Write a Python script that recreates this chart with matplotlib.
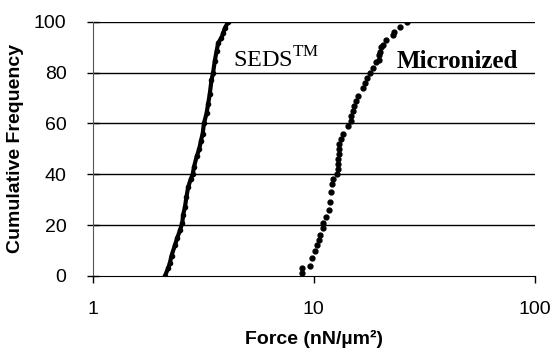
import matplotlib
matplotlib.use("Agg")
import matplotlib.pyplot as plt
from matplotlib.ticker import FixedLocator, NullLocator

# values
seds_force = [2.12, 2.19, 2.23, 2.27, 2.35, 2.41, 2.48, 2.54, 2.56, 2.61,
              2.65, 2.70, 2.77, 2.83, 2.87, 2.95, 3.03, 3.08, 3.14, 3.18,
              3.27, 3.32, 3.38, 3.44, 3.50, 3.56, 3.63, 3.69, 3.82, 3.89,
              3.96, 4.10]
seds_freq = [0, 3, 5, 8, 12, 15, 18, 21, 24, 27,
             31, 35, 38, 40, 43, 47, 50, 53, 56, 60,
             64, 67.5, 71.5, 77, 80, 84.5, 88.5, 91.7, 93.7, 95.7,
             97.6, 100]

micro_force = [8.83, 8.83, 9.59, 9.79, 10.1, 10.3, 10.5, 10.7, 10.98, 11.0,
               11.3, 11.7, 11.8, 11.9, 12.1, 12.2, 12.7, 12.8, 12.85, 12.9,
               12.98, 13.0, 13.0, 13.2, 13.5, 14.25, 14.65, 14.8, 15.0, 15.2,
               15.5, 15.8, 16.7, 17.0, 17.4, 17.9, 18.5, 19.2, 19.7, 19.8,
               19.9, 20.2, 20.5, 21.3, 22.8, 23.0, 24.5, 26.3]
micro_freq = [1, 3, 4, 7, 10, 12, 14, 16, 19, 21,
              23, 26, 29, 33, 36, 38, 40, 42, 44, 46,
              48, 50, 52, 54, 56, 59, 61, 63, 65, 67,
              69, 71, 74, 76, 78, 80, 82, 84, 85, 87,
              88, 90, 91, 93, 95, 96, 98, 100]

y_ticks = [0, 20, 40, 60, 80, 100]
x_ticks = [1, 10, 100]
x_tick_labels = ["1", "10", "100"]

plt.rcParams['font.family'] = ['Liberation Sans', 'DejaVu Sans']
plt.rcParams['mathtext.fontset'] = 'custom'
plt.rcParams['mathtext.rm'] = 'Liberation Serif'

fig = plt.figure(figsize=(5.56, 3.64), dpi=100)
ax = fig.add_axes([0.167, 0.242, 0.795, 0.698])

for y in y_ticks[1:]:
    ax.axhline(y, color='black', lw=1.0, zorder=1)

ax.plot(seds_force, seds_freq, color='black', lw=3.0, marker='o',
        markersize=3.0, zorder=3)
ax.plot(micro_force, micro_freq, color='black', lw=0, marker='o',
        markersize=3.5, zorder=3)

ax.set_xscale('log')
ax.set_xlim(1, 100)
ax.set_ylim(0, 100)
ax.xaxis.set_major_locator(FixedLocator(x_ticks))
ax.xaxis.set_minor_locator(NullLocator())
ax.set_xticklabels(x_tick_labels)
ax.set_yticks(y_ticks)

ax.spines['top'].set_visible(False)
ax.spines['right'].set_visible(False)
ax.spines['left'].set_color('#555555')
ax.spines['bottom'].set_color('black')

ax.tick_params(axis='y', direction='inout', length=8, width=1,
               labelsize=14, pad=15)
ax.tick_params(axis='x', direction='out', length=5, width=1,
               labelsize=14, pad=13)

ax.set_ylabel("Cumulative Frequency", fontsize=14, fontweight='bold',
              labelpad=7)
ax.set_xlabel("Force (nN/µm²)", fontsize=14, fontweight='bold',
              labelpad=9)

ax.text(4.30, 81.9, r"SEDS$^{\mathrm{TM}}$", family='Liberation Serif',
        fontsize=17.5, va='baseline', ha='left')
ax.text(23.8, 81.9, "Micronized", family='Liberation Serif',
        fontweight='bold', fontsize=18, va='baseline', ha='left')

fig.savefig("out.png", dpi=100)
